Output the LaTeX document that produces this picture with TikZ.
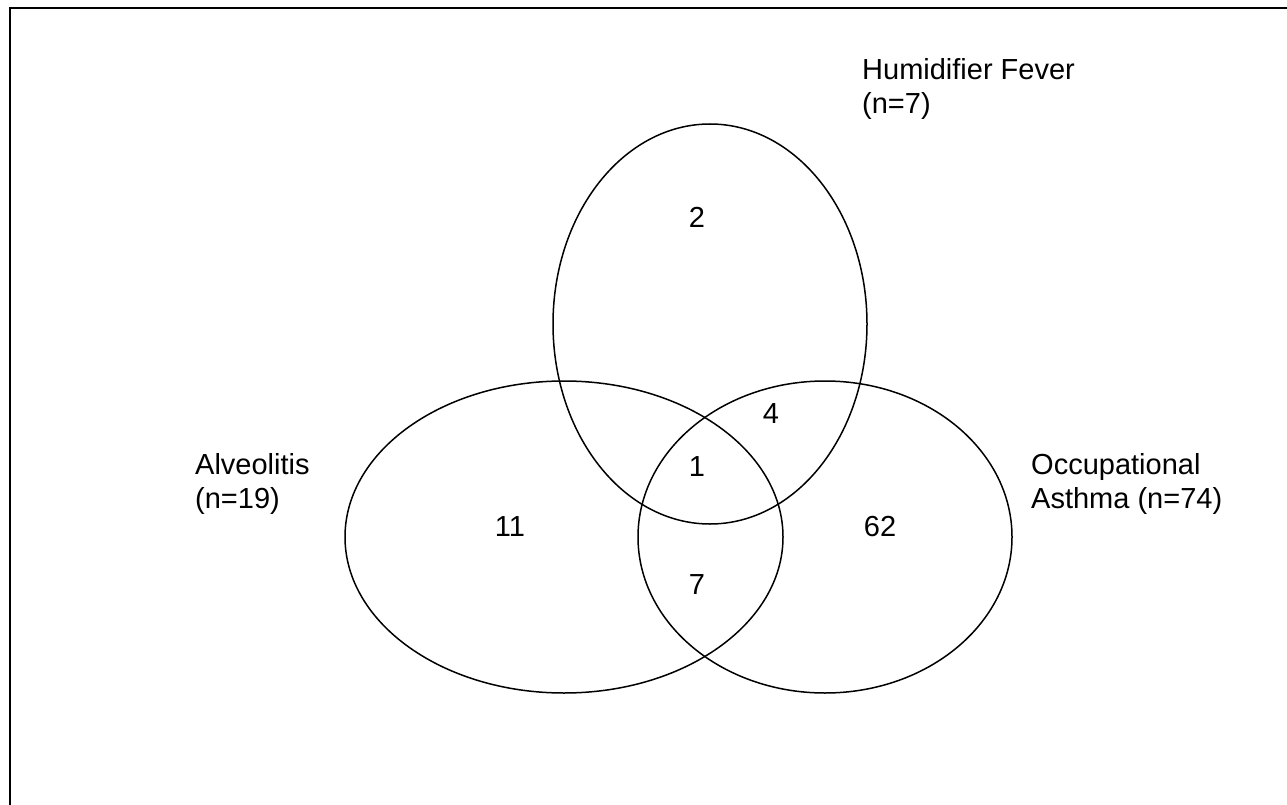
\documentclass[tikz,border=0pt]{standalone}
\usepackage{fontspec}
\setmainfont{Liberation Sans}
\usetikzlibrary{shapes}

\begin{document}
\begin{tikzpicture}[x=1pt,y=-1pt,
  setline/.style={line width=1.5pt},
  setlabel/.style={anchor=west,align=left,inner sep=0pt,font=\fontsize{29}{34}\selectfont},
  count/.style={inner sep=0pt,font=\fontsize{29}{34}\selectfont}]
\useasboundingbox (0,0) rectangle (1287,805);
\draw[line width=2pt] (10,805) -- (10,8) -- (1287,8);
% the three sets
\draw[setline] (710,324) ellipse [x radius=157, y radius=200];
\draw[setline] (564,537) ellipse [x radius=219, y radius=156];
\draw[setline] (825,537) ellipse [x radius=187, y radius=156];
% set names
\node[setlabel] (fever) at (862,89) {Humidifier Fever\\(n=7)};
\node[setlabel] (alveo) at (195,484) {Alveolitis\\(n=19)};
\node[setlabel] (asthma) at (1031,484) {Occupational\\Asthma (n=74)};
% counts
\node[count] (onlyfever) at (697,217) {2};
\node[count] (feverasthma) at (771,414) {4};
\node[count] (allthree) at (697,467) {1};
\node[count] (onlyalveo) at (510,527) {11};
\node[count] (onlyasthma) at (880,527) {62};
\node[count] (alveoasthma) at (697,585) {7};
\end{tikzpicture}
\end{document}
